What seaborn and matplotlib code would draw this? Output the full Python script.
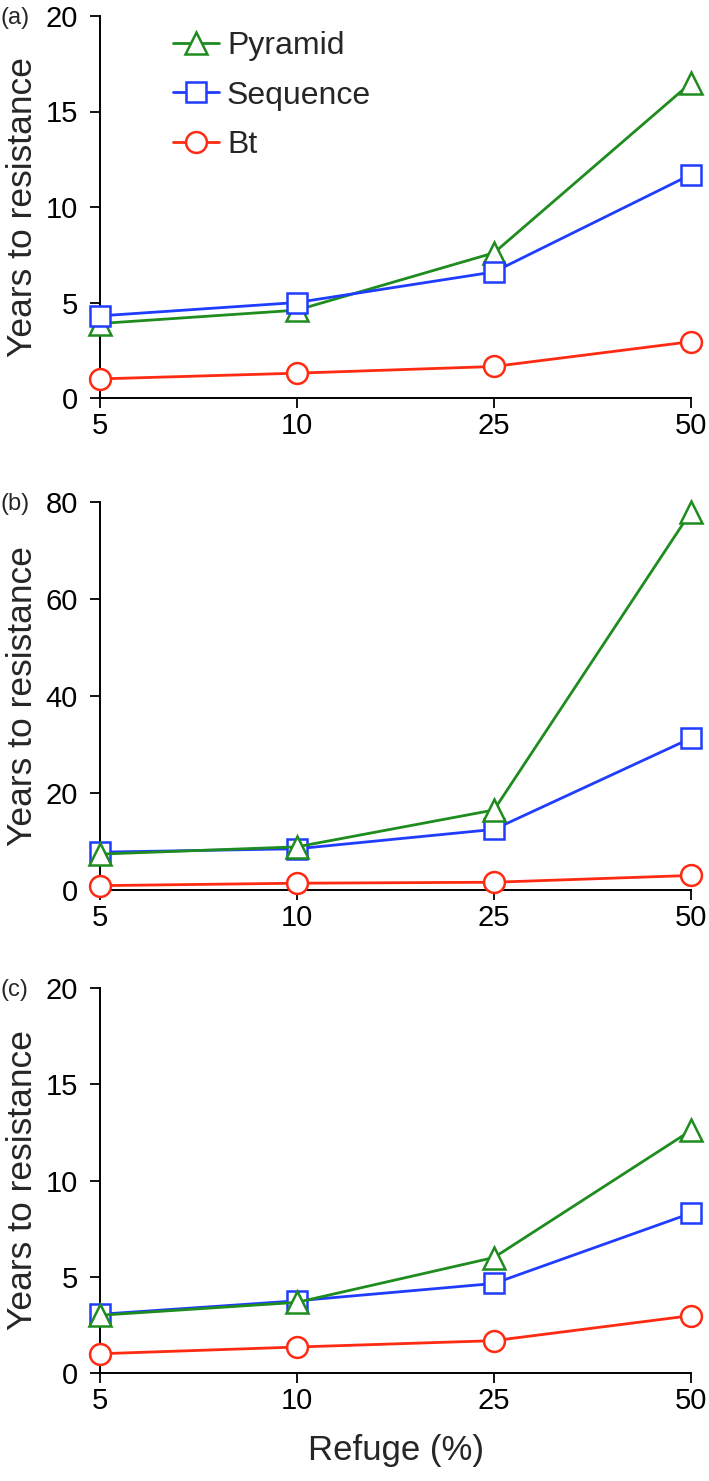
import matplotlib
matplotlib.use("Agg")
import matplotlib.pyplot as plt
import seaborn as sns
import pandas as pd

refuge = ["5", "10", "25", "50"]
series_names = ["Pyramid", "Sequence", "Bt"]

a_pyramid = [3.9, 4.6, 7.6, 16.5]
a_sequence = [4.3, 5.0, 6.6, 11.7]
a_bt = [1.0, 1.3, 1.65, 2.95]

b_pyramid = [7.4, 8.9, 16.5, 78.0]
b_sequence = [7.8, 8.5, 12.5, 31.3]
b_bt = [0.9, 1.4, 1.6, 3.0]

c_pyramid = [3.0, 3.67, 6.0, 12.6]
c_sequence = [3.05, 3.75, 4.65, 8.3]
c_bt = [1.0, 1.35, 1.68, 2.98]

panel_labels = ["(a)", "(b)", "(c)"]
y_limits = [(0, 20), (0, 80), (0, 20)]
y_ticks = [[0, 5, 10, 15, 20], [0, 20, 40, 60, 80], [0, 5, 10, 15, 20]]
ylabel = "Years to resistance"
xlabel = "Refuge (%)"

colors = {"Pyramid": "#1e8c1e", "Sequence": "#1f3cff", "Bt": "#ff2a12"}
markers = {"Pyramid": "^", "Sequence": "s", "Bt": "o"}

sns.set_theme(style="ticks")
plt.rcParams["font.family"] = ["Liberation Sans", "DejaVu Sans"]

fig = plt.figure(figsize=(7.09, 14.81), dpi=100)
W, H = 709, 1481
left_px, right_px = 100, 691
panels_px = [(16, 398), (502, 890), (988, 1373)]

data = [
    {"Pyramid": a_pyramid, "Sequence": a_sequence, "Bt": a_bt},
    {"Pyramid": b_pyramid, "Sequence": b_sequence, "Bt": b_bt},
    {"Pyramid": c_pyramid, "Sequence": c_sequence, "Bt": c_bt},
]
draw_orders = [["Bt", "Pyramid", "Sequence"], ["Bt", "Sequence", "Pyramid"], ["Bt", "Sequence", "Pyramid"]]

for i, (top, bot) in enumerate(panels_px):
    ax = fig.add_axes([left_px / W, 1 - bot / H, (right_px - left_px) / W, (bot - top) / H])
    rows = []
    for s in series_names:
        for j, r in enumerate(refuge):
            rows.append({"pos": j, "refuge": r, "series": s, "value": data[i][s][j]})
    df = pd.DataFrame(rows)
    for z, s in enumerate(draw_orders[i]):
        sub = df[df["series"] == s]
        sns.lineplot(data=sub, x="pos", y="value", ax=ax, color=colors[s],
                     marker=markers[s], markersize=16 if s == "Pyramid" else 15,
                     markerfacecolor="white", markeredgecolor=colors[s],
                     markeredgewidth=1.8, linewidth=2.0, label=s, zorder=3 + z,
                     clip_on=False)
    ax.set_xlim(0, 3)
    ax.set_ylim(*y_limits[i])
    ax.set_yticks(y_ticks[i])
    ax.set_xticks(range(len(refuge)))
    ax.set_xticklabels(refuge)
    ax.tick_params(axis="both", labelsize=21, length=7, width=1.3, color="black",
                   labelcolor="black")
    ax.tick_params(axis="y", pad=9)
    ax.tick_params(axis="x", pad=3)
    ax.set_ylabel(ylabel, fontsize=25.5)
    ax.yaxis.set_label_coords(-0.103, 0.5)
    if i == 2:
        ax.set_xlabel(xlabel, fontsize=25, labelpad=14)
    else:
        ax.set_xlabel("")
    for sp in ["top", "right"]:
        ax.spines[sp].set_visible(False)
    for sp in ["left", "bottom"]:
        ax.spines[sp].set_linewidth(1.4)
        ax.spines[sp].set_color("black")
    for line in ax.lines:
        line.set_clip_on(False)
    fig.text(1 / W, 1 - (top + 2) / H, panel_labels[i], fontsize=17, ha="left", va="center")
    leg = ax.get_legend()
    if i == 0:
        h, l = ax.get_legend_handles_labels()
        order = [l.index(n) for n in series_names]
        ax.legend([h[k] for k in order], [l[k] for k in order], loc="upper left",
                  bbox_to_anchor=(0.085, 1.02), frameon=False, fontsize=23,
                  handlelength=1.45, handletextpad=0.25, labelspacing=0.62,
                  borderaxespad=0.3)
    elif leg is not None:
        leg.remove()

fig.savefig("out.png", dpi=100)
